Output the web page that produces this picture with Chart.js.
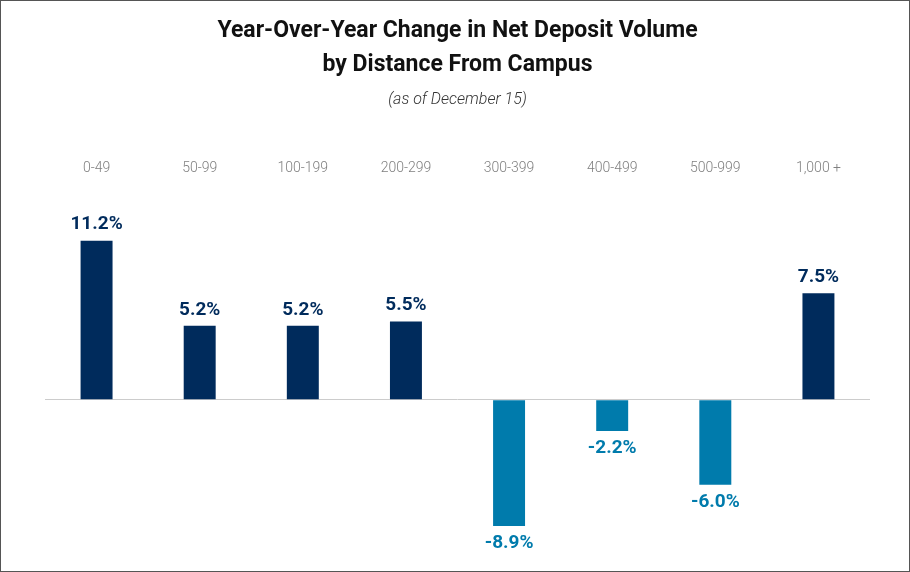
<!DOCTYPE html>
<html>
<head>
<meta charset="utf-8">
<script src="https://cdn.jsdelivr.net/npm/chart.js@4/dist/chart.umd.min.js"></script>
<style>
  html, body { margin: 0; padding: 0; background: #fff; }
  #wrap { width: 910px; height: 572px; box-sizing: border-box; border: 1px solid #555; position: relative; }
</style>
</head>
<body>
<div id="wrap"><canvas id="myChart"></canvas></div>
<script>
const distances = ['0-49', '50-99', '100-199', '200-299', '300-399', '400-499', '500-999', '1,000 +'];
const changes = [11.2, 5.2, 5.2, 5.5, -8.9, -2.2, -6.0, 7.5];
const titleLines = ['Year-Over-Year Change in Net Deposit Volume', 'by Distance From Campus'];
const subtitleText = '(as of December 15)';

const NAVY = '#002b5c';
const TEAL = '#007bac';

// value labels above / below each bar
const valueLabels = {
  id: 'valueLabels',
  afterDatasetsDraw(chart) {
    const ctx = chart.ctx;
    const meta = chart.getDatasetMeta(0);
    ctx.save();
    ctx.font = 'bold 19px Roboto';
    ctx.textAlign = 'center';
    ctx.textBaseline = 'middle';
    meta.data.forEach((bar, i) => {
      const v = changes[i];
      ctx.fillStyle = v >= 0 ? NAVY : TEAL;
      ctx.fillText(v.toFixed(1) + '%', bar.x, v >= 0 ? bar.y - 16 : bar.y + 17);
    });
    ctx.restore();
  }
};

const data = {
  labels: distances,
  datasets: [
    {
      label: 'YoY change',
      data: changes,
      backgroundColor: changes.map(v => v >= 0 ? NAVY : TEAL),
      borderWidth: 0,
      categoryPercentage: 1,
      barPercentage: 0.31
    }
  ]
};

const config = {
  type: 'bar',
  data: data,
  options: {
    responsive: false,
    animation: false,
    layout: { padding: { left: 44, right: 39, top: 0, bottom: 1 } },
    plugins: {
      legend: { display: false },
      tooltip: { enabled: false },
      title: {
        display: true,
        text: titleLines,
        color: '#111',
        font: { family: 'Roboto', size: 23, weight: 'bold', lineHeight: 1.45 },
        padding: { top: 14, bottom: 4 }
      },
      subtitle: {
        display: true,
        text: subtitleText,
        color: '#333',
        font: { family: 'Roboto', size: 16, style: 'italic', weight: 300, lineHeight: 1.2 },
        padding: { top: 5, bottom: 40 }
      }
    },
    scales: {
      x: {
        position: 'top',
        grid: { display: false, drawTicks: false },
        border: { display: false },
        ticks: {
          color: '#808080',
          font: { family: 'Roboto', size: 14, weight: 300 },
          padding: 10
        }
      },
      y: {
        min: -12,
        max: 15,
        display: true,
        border: { display: false },
        ticks: { display: false },
        grid: {
          drawTicks: false,
          color: ctx => ctx.tick.value === 0 ? '#cccccc' : 'rgba(0,0,0,0)'
        }
      }
    }
  },
  plugins: [valueLabels]
};

const canvas = document.getElementById('myChart');
canvas.width = 908;
canvas.height = 570;
const myChart = new Chart(canvas, config);
</script>
</body>
</html>
